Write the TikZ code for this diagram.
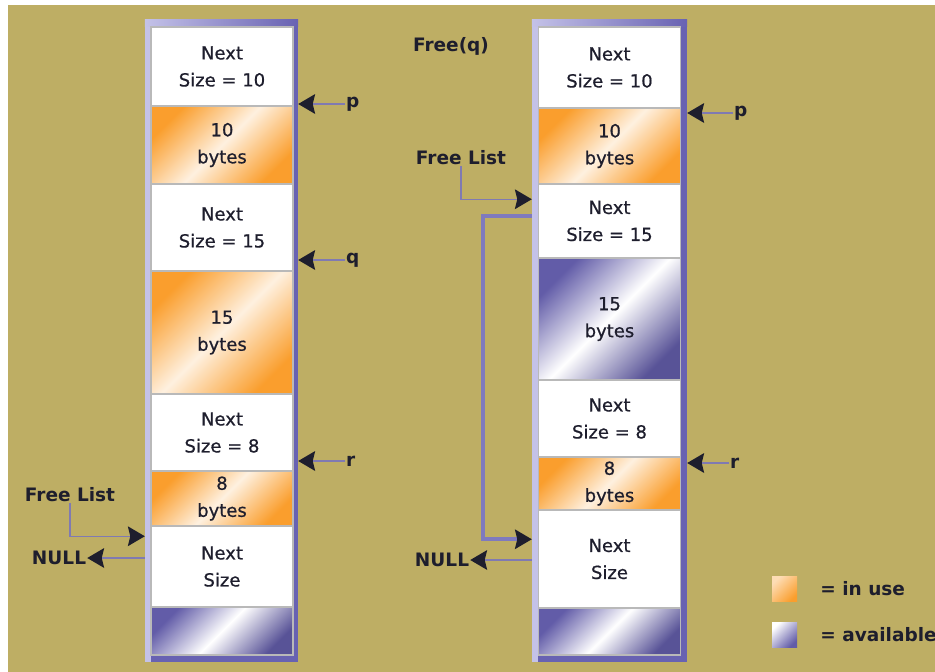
\documentclass[tikz,border=0pt]{standalone}
\usepackage{fontspec}
\setmainfont{DejaVu Sans}
\newfontfamily\cellfont{DejaVu Sans}[FakeBold=0.7]
\usetikzlibrary{arrows.meta,calc,positioning}
\definecolor{bgolive}{RGB}{190,174,100}
\definecolor{frameblue}{RGB}{104,98,178}
\definecolor{framelight}{RGB}{196,194,232}
\definecolor{orng}{RGB}{250,158,45}
\definecolor{bluec}{RGB}{98,92,168}
\definecolor{ink}{RGB}{30,30,45}
\definecolor{shaft}{RGB}{128,122,178}

\begin{document}
\begin{tikzpicture}[x=1pt,y=-1pt,
  cell/.style={draw=gray!55,line width=1.5pt,minimum width=142pt,inner sep=0pt,align=center,font=\cellfont\fontsize{18}{27}\selectfont,text=ink},
  plain/.style={cell,fill=white},
  used/.style={cell,left color=orng,right color=orng,middle color=orng!15,shading angle=45},
  avail/.style={cell,left color=bluec,right color=bluec!90!black,middle color=white,shading angle=45},
  frame/.style={fill=frameblue,draw=none,inner sep=0pt,minimum height=642pt},
  lbl/.style={font=\bfseries\fontsize{18.5}{22}\selectfont,text=ink,inner sep=1pt},
  tip/.style={-{Stealth[length=17pt,width=20pt,inset=2.5pt,color=ink,line width=0pt]}},
  ptr/.style={tip,draw=shaft,line width=1.5pt},
  loopln/.style={tip,draw=frameblue!85,line width=4pt}]
\useasboundingbox (0,0) rectangle (935,672);
\fill[white] (0,0) rectangle (935,672);
\fill[bgolive] (8,5) rectangle (935,672);

% left heap
\node[frame,minimum width=153pt] (lfr) at (221.5,341) {};
\fill[framelight] (lfr.north west) rectangle ([xshift=6pt]lfr.south west);
\shade[left color=framelight,right color=frameblue] (lfr.north west) rectangle ($(lfr.north east)+(0,7)$);
\node[plain,minimum height=79pt] (ln1) at (222,66.5) {Next\\Size = 10};
\node[used,minimum height=78pt] (lb1) at (222,145) {10\\bytes};
\node[plain,minimum height=87pt] (ln2) at (222,227.5) {Next\\Size = 15};
\node[used,minimum height=123pt] (lb2) at (222,332.5) {15\\bytes};
\node[plain,minimum height=77pt] (ln3) at (222,432.5) {Next\\Size = 8};
\node[used,minimum height=55pt] (lb3) at (222,498.5) {8\\bytes};
\node[plain,minimum height=81pt] (ln4) at (222,566.5) {Next\\Size};
\node[avail,minimum height=48pt] (lav) at (222,631) {};

\node[lbl,anchor=west] (lp) at (345,104) {p};
\node[lbl,anchor=west] (lq) at (345,260) {q};
\node[lbl,anchor=west] (lr) at (345,461) {r};
\draw[ptr] (lp.west) -- (lfr.east |- lp.west);
\draw[ptr] (lq.west) -- (lfr.east |- lq.west);
\draw[ptr] (lr.west) -- (lfr.east |- lr.west);

\node[lbl] (lfl) at (70,495) {Free List};
\node[lbl] (lnull) at (59,558) {NULL};
\draw[ptr] (lfl.south) |- ($(lfr.west |- ln4.north)+(0,11)$);
\draw[ptr] (lfr.west |- lnull) -- (lnull.east);

% right heap, after free(q)
\node[frame,minimum width=155pt] (rfr) at (609.5,341) {};
\fill[framelight] (rfr.north west) rectangle ([xshift=6pt]rfr.south west);
\shade[left color=framelight,right color=frameblue] (rfr.north west) rectangle ($(rfr.north east)+(0,7)$);
\node[plain,minimum height=81pt] (rn1) at (609.5,67.5) {Next\\Size = 10};
\node[used,minimum height=76pt] (rb1) at (609.5,146) {10\\bytes};
\node[plain,minimum height=74pt] (rn2) at (609.5,221) {Next\\Size = 15};
\node[avail,minimum height=122pt] (rb2) at (609.5,319) {15\\bytes};
\node[plain,minimum height=77pt] (rn3) at (609.5,418.5) {Next\\Size = 8};
\node[used,minimum height=53pt] (rb3) at (609.5,483.5) {8\\bytes};
\node[plain,minimum height=98pt] (rn4) at (609.5,559) {Next\\Size};
\node[avail,minimum height=47pt] (rav) at (609.5,631.5) {};

\node[lbl] (rtitle) at (451,46) {Free(q)};
\node[lbl,anchor=west] (rp) at (733,113) {p};
\node[lbl,anchor=west] (rr) at (729,463) {r};
\draw[ptr] (rp.west) -- (rfr.east |- rp.west);
\draw[ptr] (rr.west) -- (rfr.east |- rr.west);

\node[lbl] (rfl) at (461,158) {Free List};
\node[lbl] (rnull) at (442,560) {NULL};
\draw[ptr] (rfl.south) |- ($(rfr.west |- rn2.north)+(0,16)$);
\draw[loopln] ($(rfr.west |- rn2.north)+(0,33)$) -- ++(-49,0) |- ($(rfr.west |- rn4.north)+(0,30)$);
\draw[ptr] (rfr.west |- rnull) -- (rnull.east);

% legend
\node[draw=none,minimum size=25pt,inner sep=0pt,left color=orng!35,right color=orng,shading angle=45] (kuse) at (784.5,589) {};
\node[draw=none,minimum size=25pt,inner sep=0pt,left color=white,right color=bluec,shading angle=45] (kfree) at (784.5,634.5) {};
\node[lbl,right=22pt of kuse] (tuse) {= in use};
\node[lbl,right=22pt of kfree] (tfree) {= available};
\end{tikzpicture}
\end{document}
